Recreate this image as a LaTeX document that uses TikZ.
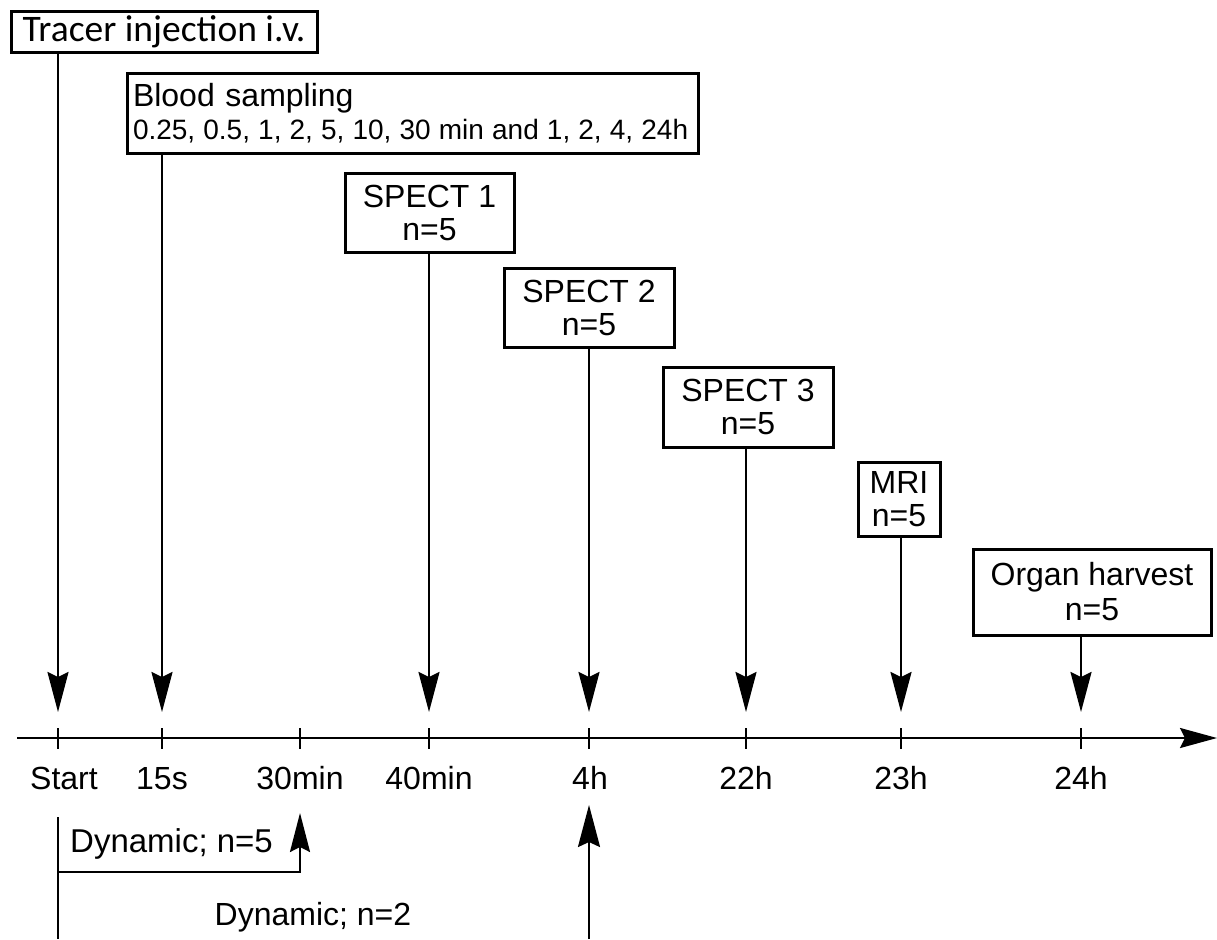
\documentclass[tikz,border=0pt]{standalone}
\usepackage{fontspec}
\setmainfont{Liberation Sans}
\newfontfamily\carlitofont{Carlito}
\usetikzlibrary{arrows.meta}
\begin{document}
\begin{tikzpicture}[x=1pt,y=-1pt,
  box/.style={draw, line width=3pt, inner sep=0pt, align=center, font=\fontsize{32}{33}\selectfont},
  conn/.style={line width=2.3pt, -{Stealth[length=40pt,width=21pt,inset=5pt]}},
  plainline/.style={line width=2.3pt},
  axisline/.style={line width=2.5pt, -{Stealth[length=37pt,width=20pt,inset=5pt]}},
  ticklbl/.style={anchor=base, inner sep=0pt, font=\fontsize{32}{33}\selectfont},
]
\useasboundingbox (0,0) rectangle (1217,939);

% boxes
\node[box, minimum width=306pt, minimum height=41pt, font=\carlitofont\fontsize{37.5}{40}\selectfont, text height=24pt, text depth=5pt] (tracer) at (164,32.5) {Tracer injection i.v.};
\node[box, minimum width=571pt, minimum height=79pt, align=left, text width=559pt] (blood) at (412.5,113.5) {Blood sampling\\{\fontsize{28}{33}\selectfont\spaceskip=0.29em\relax\mbox{0.25, 0.5, 1, 2, 5, 10, 30 min and 1, 2, 4, 24h}}};
\node[box, minimum width=169pt, minimum height=79pt] (spect1) at (429.5,212.5) {SPECT 1\\n=5};
\node[box, minimum width=170pt, minimum height=79pt] (spect2) at (589,307.5) {SPECT 2\\n=5};
\node[box, minimum width=170pt, minimum height=80pt] (spect3) at (748,407) {SPECT 3\\n=5};
\node[box, minimum width=82pt, minimum height=74pt] (mri) at (899,499) {MRI\\n=5};
\node[box, minimum width=238pt, minimum height=86pt, font=\fontsize{32}{35}\selectfont] (organ) at (1092,592) {Organ harvest\\n=5};

% axis and ticks
\coordinate (axL) at (17,738);
\coordinate (axR) at (1217,738);
\draw[axisline] (axL) -- (axR);
\foreach \n/\x in {0/58,1/162,2/300,3/429,4/589,5/746,6/901,7/1081} {
  \coordinate (t\n) at (\x,738);
  \coordinate (a\n) at (\x,712);
  \draw[plainline] (\x,728) -- (\x,749);
}

% arrows from boxes
\draw[conn] (tracer.south -| t0) -- (a0);
\draw[conn] (blood.south -| t1) -- (a1);
\draw[conn] (spect1.south -| t3) -- (a3);
\draw[conn] (spect2.south -| t4) -- (a4);
\draw[conn] (spect3.south -| t5) -- (a5);
\draw[conn] (mri.south -| t6) -- (a6);
\draw[conn] (organ.south -| t7) -- (a7);

% tick labels
\node[ticklbl] (l0) at (64,789) {Start};
\node[ticklbl] (l1) at (162,789) {15s};
\node[ticklbl] (l2) at (300,789) {30min};
\node[ticklbl] (l3) at (429,789) {40min};
\node[ticklbl] (l4) at (590,789) {4h};
\node[ticklbl] (l5) at (746,789) {22h};
\node[ticklbl] (l6) at (901,789) {23h};
\node[ticklbl] (l7) at (1081,789) {24h};

% dynamic scans
\coordinate (d0) at (58,817);
\coordinate (dB) at (58,939);
\coordinate (dk) at (58,872);
\coordinate (d5) at (300,813);
\coordinate (e0) at (589,939);
\coordinate (e1) at (589,805);
\draw[plainline] (d0) -- (dB);
\draw[line width=2.3pt, -{Stealth[length=39pt,width=20pt,inset=5pt]}] (dk) -| (d5);
\draw[line width=2.3pt, -{Stealth[length=42pt,width=22pt,inset=5pt]}] (e0) -- (e1);
\node[ticklbl, anchor=base west, font=\fontsize{33}{34}\selectfont] (dyn5) at (70,852) {Dynamic; n=5};
\node[ticklbl] (dyn2) at (313,925) {Dynamic; n=2};
\end{tikzpicture}
\end{document}
